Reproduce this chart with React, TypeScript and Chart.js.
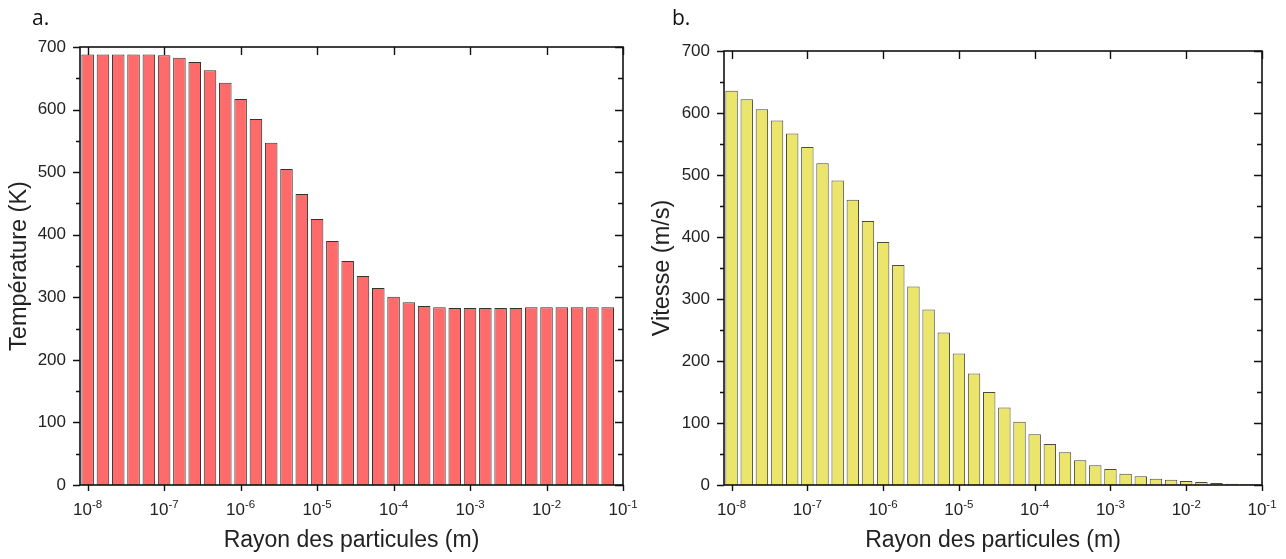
import React, { useEffect, useRef } from 'react';
import { Chart, registerables } from 'chart.js';

Chart.register(...registerables);

// Particle radius (m) for each bar
const radii = [
  1e-8, 1.585e-8, 2.512e-8, 3.981e-8, 6.31e-8,
  1e-7, 1.585e-7, 2.512e-7, 3.981e-7, 6.31e-7,
  1e-6, 1.585e-6, 2.512e-6, 3.981e-6, 6.31e-6,
  1e-5, 1.585e-5, 2.512e-5, 3.981e-5, 6.31e-5,
  1e-4, 1.585e-4, 2.512e-4, 3.981e-4, 6.31e-4,
  1e-3, 1.585e-3, 2.512e-3, 3.981e-3, 6.31e-3,
  1e-2, 1.585e-2, 2.512e-2, 3.981e-2, 6.31e-2,
];

// a. Temperature (K)
const temperature = [
  688, 688, 688, 688, 688,
  687, 683, 676, 663, 643,
  617, 585, 547, 505, 465,
  425, 390, 358, 334, 315,
  301, 292, 286, 284, 283,
  283, 283, 283, 283, 284,
  284, 284, 284, 284, 284,
];

// b. Velocity (m/s)
const velocity = [
  636, 622, 606, 588, 567,
  545, 519, 491, 460, 426,
  392, 355, 320, 283, 246,
  212, 180, 150, 125, 102,
  82, 66, 53, 40, 32,
  26, 18, 14, 10, 8.5,
  6.4, 5, 3.2, 2, 1.6,
];

const xTickValues = [1e-8, 1e-7, 1e-6, 1e-5, 1e-4, 1e-3, 1e-2, 1e-1];
const xTickExponents = ['-8', '-7', '-6', '-5', '-4', '-3', '-2', '-1'];
const yMajorTicks = [0, 100, 200, 300, 400, 500, 600, 700];
const yMinorTicks = [50, 150, 250, 350, 450, 550, 650];

const FONT = '"Liberation Sans", Arial, sans-serif';

const frameTicksPlugin = {
  id: 'frameTicks',
  afterDraw(chart: any, _args: any, opts: any) {
    const { ctx, chartArea: a, scales } = chart;
    const xs = scales.x;
    const ys = scales.y;
    ctx.save();
    ctx.strokeStyle = '#111';
    ctx.lineWidth = 1.6;
    ctx.strokeRect(a.left, a.top, a.right - a.left, a.bottom - a.top);
    ctx.lineWidth = 1.4;
    ctx.beginPath();
    for (const v of yMajorTicks) {
      const py = Math.round(ys.getPixelForValue(v)) + 0.5;
      ctx.moveTo(a.left - 7, py);
      ctx.lineTo(a.left, py);
      ctx.moveTo(a.right, py);
      ctx.lineTo(a.right - 8, py);
    }
    for (const v of yMinorTicks) {
      const py = Math.round(ys.getPixelForValue(v)) + 0.5;
      ctx.moveTo(a.left - 4, py);
      ctx.lineTo(a.left, py);
      ctx.moveTo(a.right, py);
      ctx.lineTo(a.right - 5, py);
    }
    for (const v of xTickValues) {
      const px = Math.round(xs.getPixelForValue(v)) + 0.5;
      ctx.moveTo(px, a.bottom);
      ctx.lineTo(px, a.bottom + 6);
      ctx.moveTo(px, a.top);
      ctx.lineTo(px, a.top + 8);
    }
    ctx.stroke();

    // x tick labels with superscript exponents
    ctx.fillStyle = '#222';
    ctx.textBaseline = 'alphabetic';
    ctx.textAlign = 'left';
    for (let i = 0; i < xTickValues.length; i++) {
      const px = xs.getPixelForValue(xTickValues[i]);
      ctx.font = `17px ${FONT}`;
      const w1 = ctx.measureText('10').width;
      ctx.font = `11.5px ${FONT}`;
      const w2 = ctx.measureText(xTickExponents[i]).width;
      const start = px - (w1 + w2) / 2;
      ctx.font = `17px ${FONT}`;
      ctx.fillText('10', start, a.bottom + 30);
      ctx.font = `11.5px ${FONT}`;
      ctx.fillText(xTickExponents[i], start + w1, a.bottom + 23);
    }

    // panel letter
    ctx.font = '21px "Open Sans", "Noto Sans", sans-serif';
    ctx.fillStyle = '#111';
    ctx.fillText(opts.letter, opts.letterX, opts.letterY);
    ctx.restore();
  },
};

type PanelProps = {
  left: number;
  width: number;
  values: number[];
  fill: string;
  border: string;
  yTitle: string;
  letter: string;
  plotLeft: number;
  plotRight: number;
  plotTop: number;
  yTitlePad: number;
};

function Panel(p: PanelProps) {
  const ref = useRef<HTMLCanvasElement | null>(null);
  useEffect(() => {
    if (!ref.current) return;
    const chart = new Chart(ref.current, {
      type: 'bar',
      data: {
        datasets: [
          {
            data: radii.map((r, i) => ({ x: r, y: p.values[i] })),
            backgroundColor: p.fill,
            borderColor: p.border,
            borderWidth: 1,
            barPercentage: 0.82,
            categoryPercentage: 1,
          },
        ],
      },
      options: {
        responsive: false,
        animation: false,
        layout: {
          padding: { left: 0, top: p.plotTop, right: p.width - p.plotRight, bottom: 0 },
        },
        plugins: {
          legend: { display: false },
          tooltip: { enabled: false },
          frameTicks: { letter: p.letter, letterX: 32, letterY: 25 },
        } as any,
        scales: {
          x: {
            type: 'logarithmic',
            min: Math.pow(10, -8.1),
            max: 0.1,
            bounds: 'data',
            offset: false,
            grid: { display: false, drawTicks: false },
            border: { display: false },
            ticks: { display: false },
            afterBuildTicks: (s: any) => {
              s.ticks = xTickValues.map((v) => ({ value: v, major: true }));
            },
            title: {
              display: true,
              text: 'Rayon des particules (m)',
              color: '#222',
              font: { family: FONT, size: 23 },
              padding: { top: 0, bottom: 5 },
            },
            afterFit: (s: any) => {
              s.height = 74;
            },
          },
          y: {
            type: 'linear',
            min: 0,
            max: 700,
            grid: { display: false, drawTicks: false },
            border: { display: false },
            ticks: {
              stepSize: 100,
              padding: 14,
              color: '#222',
              font: { family: FONT, size: 17 },
            },
            title: {
              display: true,
              text: p.yTitle,
              color: '#222',
              font: { family: FONT, size: 23.5 },
              padding: { top: p.yTitlePad, bottom: 0 },
            },
            afterFit: (s: any) => {
              s.width = p.plotLeft;
            },
          },
        } as any,
      },
      plugins: [frameTicksPlugin],
    });
    return () => chart.destroy();
  }, []);
  return (
    <canvas
      ref={ref}
      width={p.width}
      height={559}
      style={{ position: 'absolute', left: p.left, top: 0, width: p.width, height: 559 }}
    />
  );
}

export default function App() {
  return (
    <div
      style={{
        position: 'absolute',
        left: 0,
        top: 0,
        width: 1286,
        height: 559,
        background: '#fff',
        overflow: 'hidden',
      }}
    >
      <Panel
        left={0}
        width={640}
        values={temperature}
        fill="#FF6B6B"
        border="#333333"
        yTitle="Température (K)"
        letter="a."
        plotLeft={80}
        plotRight={623}
        plotTop={47}
        yTitlePad={5}
      />
      <Panel
        left={640}
        width={646}
        values={velocity}
        fill="#EBE56B"
        border="#4a4a40"
        yTitle="Vitesse (m/s)"
        letter="b."
        plotLeft={84}
        plotRight={622}
        plotTop={51}
        yTitlePad={8}
      />
    </div>
  );
}
